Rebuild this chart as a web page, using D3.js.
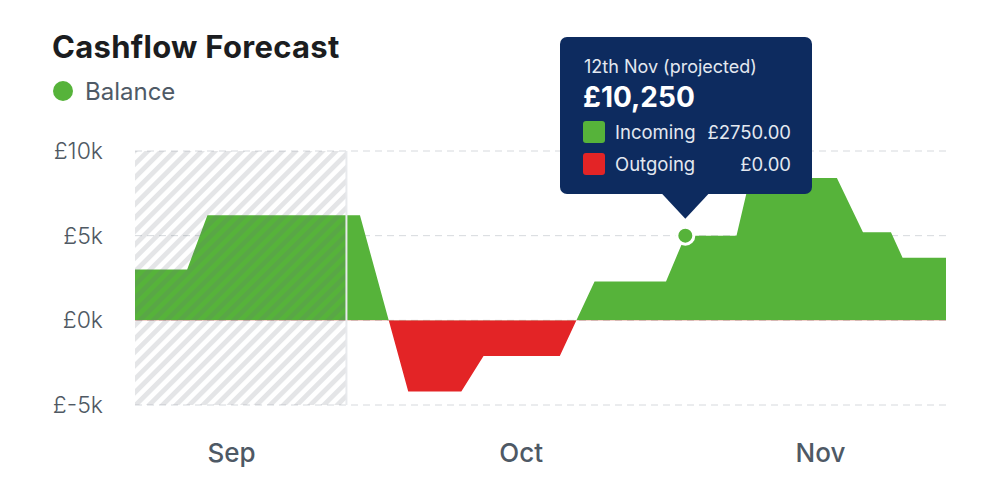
<!DOCTYPE html>
<html>
<head>
<meta charset="utf-8">
<script src="https://cdn.jsdelivr.net/npm/d3@7"></script>
<style>
  html, body { margin: 0; padding: 0; background: #fff; }
  svg { display: block; font-family: Inter, "Open Sans", sans-serif; }
</style>
</head>
<body>
<svg id="chart"></svg>
<script>
// day offsets from the start of the window (5th Sep) and balance in £k
const days = [0, 5.4, 7.5, 23.3, 28.3, 33.8, 36.1, 44, 47.6, 55, 57, 62.3, 63.7, 72.7, 75.4, 78.3, 79.5, 84];
const balance = [3.0, 3.0, 6.2, 6.2, -4.2, -4.2, -2.1, -2.1, 2.3, 2.3, 5.0, 5.0, 8.4, 8.4, 5.2, 5.2, 3.7, 3.7];

const yTicks = [10, 5, 0, -5];
const yTickLabels = ["£10k", "£5k", "£0k", "£-5k"];
const monthDays = [10, 40, 71];
const monthLabels = ["Sep", "Oct", "Nov"];
const todayDay = 21.9;
const hoverIndex = 10;

const tooltipTitle = "12th Nov (projected)";
const tooltipValue = "£10,250";
const tooltipRows = [
  { name: "Incoming", amount: "£2750.00", color: "#56b33a" },
  { name: "Outgoing", amount: "£0.00", color: "#e32426" }
];

const data = days.map((d, i) => ({ day: d, value: balance[i] }));

const width = 1000;
const height = 500;
const margin = { top: 151, right: 54, bottom: 95, left: 135 };

const svg = d3.select("#chart")
  .attr("width", width)
  .attr("height", height);

const x = d3.scaleLinear()
  .domain([0, 84])
  .range([margin.left, width - margin.right]);

const y = d3.scaleLinear()
  .domain([-5, 10])
  .range([height - margin.bottom, margin.top]);

const defs = svg.append("defs");

// diagonal hatch for the past period
const pattern = defs.append("pattern")
  .attr("id", "hatch")
  .attr("patternUnits", "userSpaceOnUse")
  .attr("width", 9.5)
  .attr("height", 9.5)
  .attr("patternTransform", "rotate(45)");
pattern.append("rect")
  .attr("width", 4.8)
  .attr("height", 9.5)
  .attr("fill", "rgba(105,112,120,0.18)");

defs.append("clipPath").attr("id", "above")
  .append("rect")
  .attr("x", 0).attr("y", 0)
  .attr("width", width).attr("height", y(0));

defs.append("clipPath").attr("id", "below")
  .append("rect")
  .attr("x", 0).attr("y", y(0))
  .attr("width", width).attr("height", height - y(0));

// title + legend
svg.append("text")
  .attr("x", 52)
  .attr("y", 58)
  .attr("font-size", 31)
  .attr("font-weight", 700)
  .attr("letter-spacing", 0.3)
  .attr("fill", "#1b1d20")
  .text("Cashflow Forecast");

svg.append("circle")
  .attr("cx", 63).attr("cy", 91).attr("r", 10)
  .attr("fill", "#56b33a");

svg.append("text")
  .attr("x", 85).attr("y", 100)
  .attr("font-size", 24)
  .attr("fill", "#4f5a66")
  .text("Balance");

// grid
svg.append("g")
  .selectAll("line")
  .data(yTicks)
  .join("line")
  .attr("x1", margin.left)
  .attr("x2", width - margin.right)
  .attr("y1", d => y(d))
  .attr("y2", d => y(d))
  .attr("stroke", "#d6d9dd")
  .attr("stroke-width", 1)
  .attr("stroke-dasharray", "7,5");

// y labels
svg.append("g")
  .selectAll("text")
  .data(yTicks)
  .join("text")
  .attr("x", 103)
  .attr("y", d => y(d) + 8)
  .attr("text-anchor", "end")
  .attr("font-size", 23)
  .attr("font-weight", 300)
  .attr("fill", "#4f5963")
  .text((d, i) => yTickLabels[i]);

// area split on zero
const area = d3.area()
  .x(d => x(d.day))
  .y0(y(0))
  .y1(d => y(d.value));

svg.append("path")
  .datum(data)
  .attr("clip-path", "url(#above)")
  .attr("fill", "#56b33a")
  .attr("d", area);

svg.append("path")
  .datum(data)
  .attr("clip-path", "url(#below)")
  .attr("fill", "#e32426")
  .attr("d", area);

// past period hatch
svg.append("rect")
  .attr("x", x(0))
  .attr("y", y(10))
  .attr("width", x(todayDay) - x(0))
  .attr("height", y(-5) - y(10))
  .attr("fill", "url(#hatch)");

svg.append("line")
  .attr("x1", x(todayDay)).attr("x2", x(todayDay))
  .attr("y1", y(10)).attr("y2", y(-5))
  .attr("stroke", "#e8eaed")
  .attr("stroke-width", 2);

// month labels
svg.append("g")
  .selectAll("text")
  .data(monthDays)
  .join("text")
  .attr("x", d => x(d))
  .attr("y", 462)
  .attr("text-anchor", "middle")
  .attr("font-size", 26)
  .attr("font-weight", 500)
  .attr("fill", "#4e5965")
  .text((d, i) => monthLabels[i]);

// hover point + tooltip
const hp = data[hoverIndex];
const px = x(hp.day);
const py = y(hp.value);

svg.append("circle")
  .attr("cx", px).attr("cy", py).attr("r", 8.5)
  .attr("fill", "#56b33a")
  .attr("stroke", "#fff")
  .attr("stroke-width", 3);

const tip = svg.append("g");
const tipX = 560, tipY = 37, tipW = 252, tipH = 157;

tip.append("path")
  .attr("d", `M${px - 24},${tipY + tipH - 1} L${px},${py - 17} L${px + 24},${tipY + tipH - 1} Z`)
  .attr("fill", "#0d2b5f");

tip.append("rect")
  .attr("x", tipX).attr("y", tipY)
  .attr("width", tipW).attr("height", tipH)
  .attr("rx", 7)
  .attr("fill", "#0d2b5f");

tip.append("text")
  .attr("x", 584).attr("y", 73)
  .attr("font-size", 18)
  .attr("fill", "#e3e8f0")
  .text(tooltipTitle);

tip.append("text")
  .attr("x", 583).attr("y", 107)
  .attr("font-size", 28)
  .attr("font-weight", 700)
  .attr("fill", "#fff")
  .text(tooltipValue);

const rows = tip.selectAll("g.row")
  .data(tooltipRows)
  .join("g")
  .attr("class", "row")
  .attr("transform", (d, i) => `translate(0, ${i * 32})`);

rows.append("rect")
  .attr("x", 583).attr("y", 121)
  .attr("width", 22).attr("height", 22)
  .attr("rx", 3)
  .attr("fill", d => d.color);

rows.append("text")
  .attr("x", 615).attr("y", 139)
  .attr("font-size", 18.5)
  .attr("fill", "#e3e8f0")
  .text(d => d.name);

rows.append("text")
  .attr("x", 791).attr("y", 139)
  .attr("text-anchor", "end")
  .attr("font-size", 18.5)
  .attr("fill", "#e3e8f0")
  .text(d => d.amount);
</script>
</body>
</html>
